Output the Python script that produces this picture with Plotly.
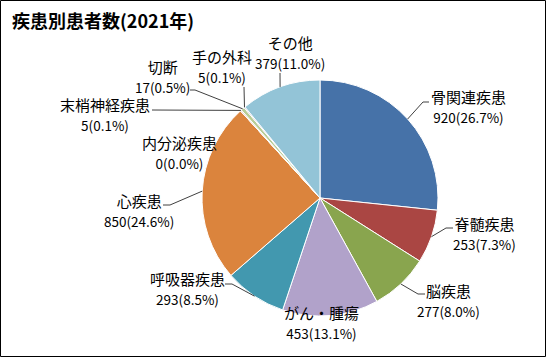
import math
import plotly.graph_objects as go

# ---- data ----
categories = ["骨関連疾患", "脊髄疾患", "脳疾患", "がん・腫瘍", "呼吸器疾患", "心疾患",
              "内分泌疾患", "末梢神経疾患", "切断", "手の外科", "その他"]
patients = [920, 253, 277, 453, 293, 850, 0, 5, 17, 5, 379]
title_text = "疾患別患者数(2021年)"

# ---- styles / layout ----
colors = ["#4672A8", "#AA4643", "#89A54E", "#B1A2CA", "#4298AF", "#DB843D",
          "#93A9CF", "#D19392", "#B9CD96", "#A99BBD", "#93C4D7"]
W, H = 546, 357
CX, CY, R = 320, 198, 118  # pie centre / radius in pixels
# label centre (px) for each slice
label_pos = [(468, 106), (484, 233), (448, 300.5), (321.5, 322.5), (187, 288.5),
             (139, 210), (179, 152.5), (105, 114.5), (162, 76), (222, 66), (290, 52.5)]
# leader line elbow and end (px); None = no leader
leader = [[(423, 102), (429, 102)], [(446, 228), (453, 228)], [(418, 294), (425, 294)], None,
          [(232, 284), (225, 284)], [(170, 205), (163, 205)], None,
          [(152, 110)], [(195, 90), (190, 90)], [(244, 87)], [(280, 73)]]
FONT = "Noto Sans CJK JP"


def px(x):
    return x / W


def py(y):
    return 1 - y / H


total = sum(patients)
fig = go.Figure(go.Pie(
    labels=categories, values=patients, sort=False, direction="clockwise", rotation=0,
    marker=dict(colors=colors, line=dict(color="white", width=1)),
    textinfo="none", hoverinfo="skip", showlegend=False,
    domain=dict(x=[px(CX - R), px(CX + R)], y=[py(CY + R), py(CY - R)]),
))

annotations = []
shapes = []
cum = 0
for i, (cat, v) in enumerate(zip(categories, patients)):
    mid = (cum + v / 2) / total * 2 * math.pi
    cum += v
    pct = v / total * 100
    lx, ly = label_pos[i]
    annotations.append(dict(
        x=px(lx), y=py(ly), xref="paper", yref="paper", showarrow=False,
        text=f"{cat}<br><span style='font-size:13.5px'>{v}({pct:.1f}%)</span>",
        align="center", xanchor="center", yanchor="middle",
        font=dict(family=FONT, size=15, color="#000000")))
    if leader[i]:
        ex, ey = CX + R * math.sin(mid), CY - R * math.cos(mid)
        pts = [(ex, ey)] + leader[i]
        path = "M " + " L ".join(f"{px(a)},{py(b)}" for a, b in pts)
        shapes.append(dict(type="path", xref="paper", yref="paper", path=path,
                           line=dict(color="#404040", width=1)))

annotations.append(dict(x=px(10), y=py(20), xref="paper", yref="paper", showarrow=False,
                        text=title_text, xanchor="left", yanchor="middle",
                        font=dict(family=FONT, size=18, color="#000000", weight="bold")))
shapes.append(dict(type="rect", xref="paper", yref="paper", x0=px(0.5), x1=px(W - 0.5),
                   y0=py(H - 0.5), y1=py(0.5), line=dict(color="#000000", width=1)))

fig.update_layout(width=W, height=H, margin=dict(l=0, r=0, t=0, b=0),
                  paper_bgcolor="white", plot_bgcolor="white",
                  annotations=annotations, shapes=shapes)
fig.write_html("out.html", config={"displayModeBar": False},
               post_script="document.body.style.margin='0';")
